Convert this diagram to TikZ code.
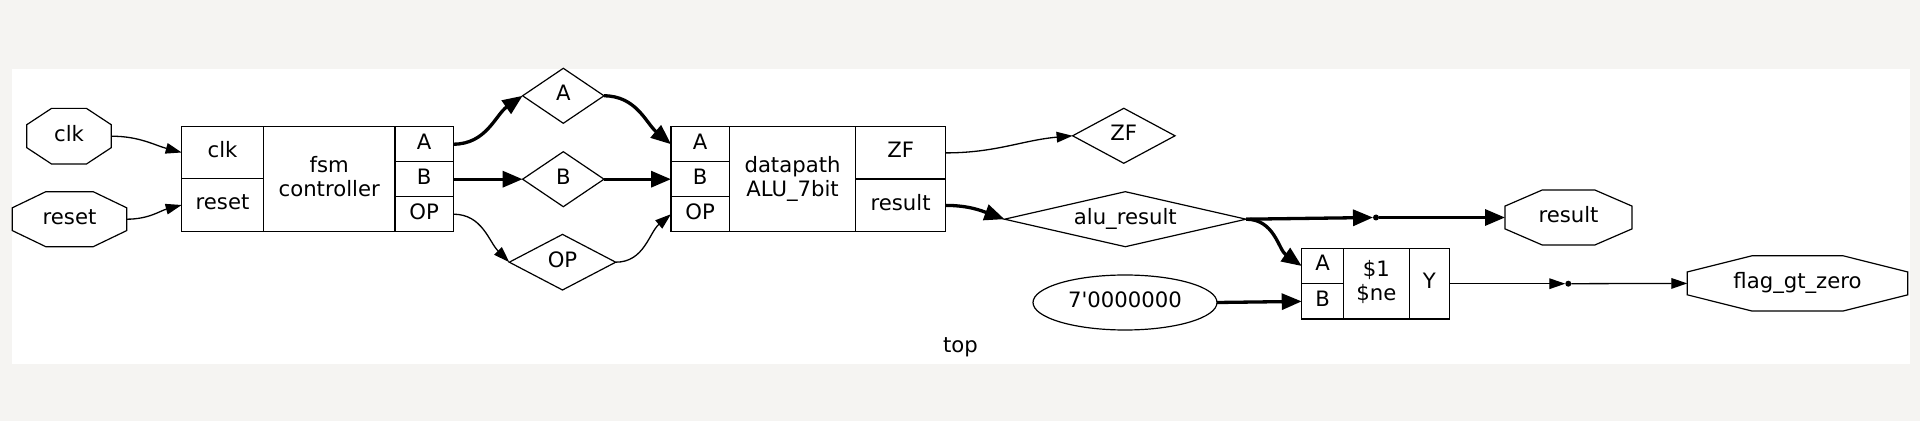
\documentclass[tikz,border=0pt]{standalone}
\usepackage{fontspec}
\setmainfont{DejaVu Sans}
\usepackage{tikz}
\usetikzlibrary{calc}
\usetikzlibrary{arrows.meta}
\usetikzlibrary{shapes.geometric}
\definecolor{pagegray}{RGB}{245,244,242}
\tikzset{
    wire/.style={line width=0.65pt,-{Triangle[length=8pt,width=5.3pt]}},
    bus/.style={line width=1.65pt,-{Triangle[length=10pt,width=8pt]}},
    cell/.style={draw,line width=0.6pt,inner sep=0pt,outer sep=0pt,align=center},
    body/.style={cell,text height=},
    shapebox/.style={inner sep=0pt,outer sep=0pt},
    jdot/.style={circle,fill,inner sep=0pt,outer sep=0pt,minimum size=3pt,text height=0pt,text depth=0pt}
}

\begin{document}
\begin{tikzpicture}[x=0.5pt,y=0.5pt,every node/.style={font=\fontsize{10.6}{11.8}\selectfont,text height=8pt,text depth=3pt}]
\fill[pagegray] (0,0) rectangle (1920,-421);
\fill[white] (12,-69) rectangle (1910,-364.5);
\useasboundingbox (0,0) rectangle (1920,-421);
% record cells
\foreach \x/\y/\w/\h/\p/\t in {222.5/-152.5/40.8pt/25.8pt/fclk/clk, 222.5/-205/40.8pt/26.7pt/freset/reset, 424.2/-144.2/29.2pt/17.5pt/fA/A, 424.2/-179.2/29.2pt/17.5pt/fB/B, 424.2/-214.2/29.2pt/17.5pt/fOP/OP, 700.2/-144.2/29.2pt/17.5pt/pA/A, 700.2/-179.2/29.2pt/17.5pt/pB/B, 700.2/-214.2/29.2pt/17.5pt/pOP/OP, 900.6/-152.9/45.1pt/26.2pt/pZF/ZF, 900.6/-205.4/45.1pt/26.3pt/pres/result, 1322.5/-266/20.8pt/17.7pt/nA/A, 1322.5/-301.4/20.8pt/17.6pt/nB/B, 1429.3/-283.7/20pt/35.3pt/nY/Y}{
    \node[cell,minimum width=\w,minimum height=\h] (\p) at (\x,\y) {\t};
}
\node[body,minimum width=65.8pt,minimum height=52.5pt] (fsm) at (329.2,-179.2) {fsm\\controller};
\node[body,minimum width=63pt,minimum height=52.5pt] (dp) at (792.5,-179.2) {datapath\\ALU\_7bit};
\node[body,minimum width=33pt,minimum height=35.3pt] (ne) at (1376.3,-283.7) {\$1\\\$ne};
% wires
\foreach \x/\y/\w/\h/\p/\t in {563.3/-95.8/40.7pt/27.5pt/wA/A, 563.3/-179.2/40.7pt/27.5pt/wB/B, 562.5/-262.2/53.2pt/27.8pt/wOP/OP, 1123.8/-135.8/51.2pt/27.5pt/wZF/ZF, 1125.3/-219.2/120.8pt/27.5pt/walu/alu\_result}{
    \node[shapebox,minimum width=\w,minimum height=\h] (\p) at (\x,\y) {\t};
    \draw[line width=0.6pt] (\p.west) -- (\p.north) -- (\p.east) -- (\p.south) -- cycle;
}
% ports
\foreach \x/\y/\w/\h/\p/\t in {69/-136.2/42.2pt/27.8pt/inclk/clk, 69.5/-219.2/57.2pt/27.5pt/inreset/reset, 1568.5/-217.5/63.5pt/27.5pt/outres/result, 1797.5/-283.4/110.2pt/27.6pt/outflag/flag\_gt\_zero}{
    \node[shapebox,minimum width=\w,minimum height=\h] (\p) at (\x,\y) {\t};
    \draw[line width=0.6pt] ($(\p.north west)!.2929!(\p.north east)$) -- ($(\p.north west)!.7071!(\p.north east)$) -- ($(\p.north east)!.2929!(\p.south east)$) -- ($(\p.north east)!.7071!(\p.south east)$) -- ($(\p.south east)!.2929!(\p.south west)$) -- ($(\p.south east)!.7071!(\p.south west)$) -- ($(\p.south west)!.2929!(\p.north west)$) -- ($(\p.south west)!.7071!(\p.north west)$) -- cycle;
}
\node[ellipse,draw,line width=0.6pt,inner sep=0pt,outer sep=0pt,minimum width=92pt,minimum height=27.5pt] (c0) at (1125,-302.5) {7\textquotesingle 0000000};
\node[jdot] (j1) at (1376,-217.5) {};
\node[jdot] (j2) at (1568.3,-283.7) {};
\node (title) at (960.5,-347.5) {top};
% connections
\draw[wire] (inclk.east) to[out=0,in=165] (fclk.west);
\draw[wire] (inreset.east) to[out=0,in=195] (freset.west);
\draw[bus] (fA.east) to[out=0,in=215] (wA.west);
\draw[bus] (fB.east) -- (wB.west);
\draw[wire] (fOP.east) to[out=0,in=135] (wOP.west);
\draw[bus] (wA.east) to[out=0,in=140] (pA.west);
\draw[bus] (wB.east) -- (pB.west);
\draw[wire] (wOP.east) to[out=0,in=220] (pOP.west);
\draw[wire] (pZF.east) to[out=0,in=185] (wZF.west);
\draw[bus] (pres.east) to[out=0,in=160] (walu.west);
\draw[bus] (walu.east) -- (j1.west);
\draw[bus] (j1.east) -- (outres.west);
\draw[bus] (walu.east) to[out=0,in=145] (nA.west);
\draw[bus] (c0.east) -- (nB.west);
\draw[wire] (nY.east) -- (j2.west);
\draw[wire] (j2.east) -- (outflag.west);
\end{tikzpicture}
\end{document}
